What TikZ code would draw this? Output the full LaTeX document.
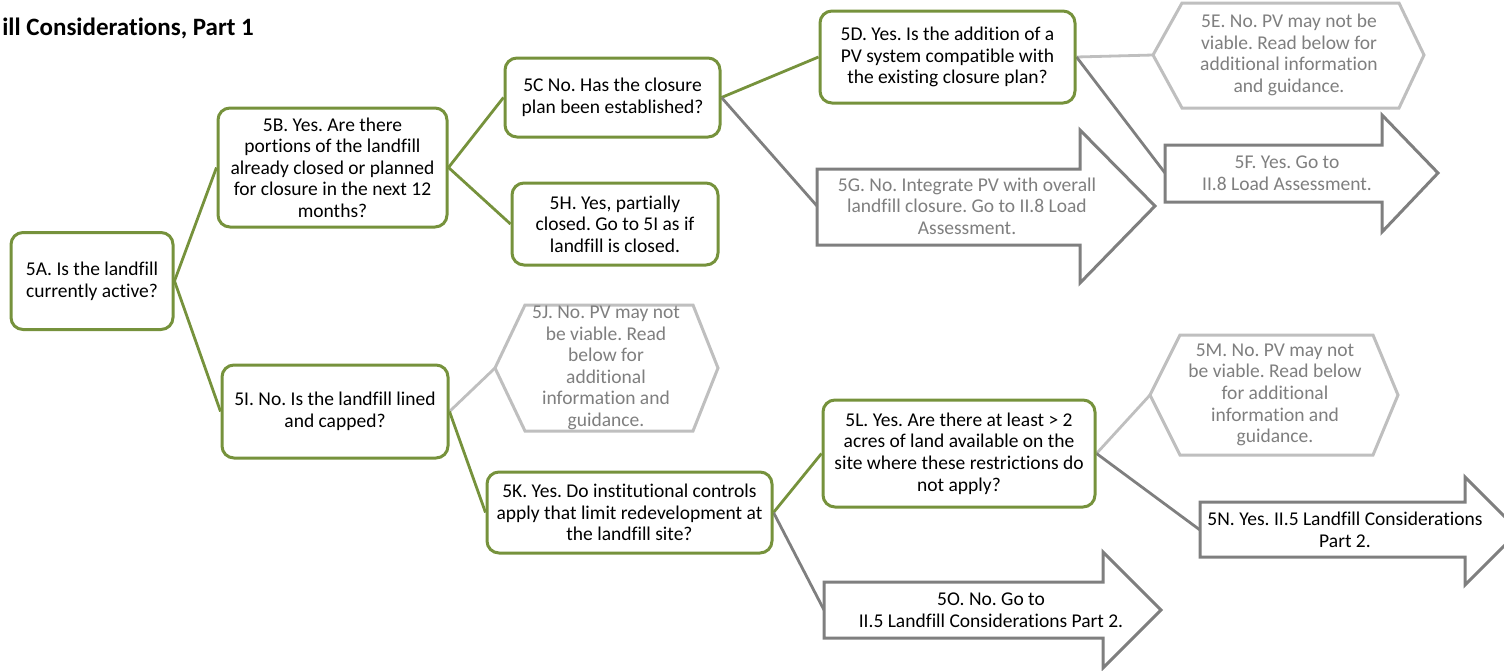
\documentclass[tikz,border=0pt]{standalone}
\usepackage{fontspec}
\setmainfont{Carlito}[Ligatures={NoCommon}]
\frenchspacing
\usetikzlibrary{backgrounds}
\definecolor{leaf}{HTML}{76923C}
\definecolor{slate}{HTML}{7F7F7F}
\definecolor{mist}{HTML}{BFBFBF}

\begin{document}
\begin{tikzpicture}[x=1pt,y=-1pt,
  every node/.style={font=\fontsize{19.5}{21.6}\selectfont, align=center, inner sep=0pt},
  qbox/.style={draw=leaf, line width=3pt, rounded corners=12pt, fill=white},
  hexa/.style={draw=mist, line width=3pt, fill=white},
  goarrow/.style={draw=slate, line width=3pt, fill=white},
  greylabel/.style={text=slate},
  link/.style={draw=leaf, line width=2.8pt},
  darklink/.style={draw=slate, line width=2.8pt},
  lightlink/.style={draw=mist, line width=2.8pt}]

\useasboundingbox (0,0) rectangle (1504,670);

% title
\node[anchor=base east, font=\fontsize{25}{30}\selectfont\bfseries] (title) at (254,35) {ill Considerations, Part 1};

% question boxes
\node[qbox, minimum width=162pt, minimum height=97pt] (A) at (92,281) {5A. Is the landfill\\currently active?};
\node[qbox, minimum width=229pt, minimum height=119pt] (B) at (332.5,167.5) {5B. Yes. Are there\\portions of the landfill\\already closed or planned\\for closure in the next 12\\months?};
\node[qbox, minimum width=215pt, minimum height=79pt] (C) at (612.5,97.5) {5C No. Has the closure\\plan been established?};
\node[qbox, minimum width=206pt, minimum height=82pt] (H) at (615,224) {5H. Yes, partially\\closed. Go to 5I as if\\landfill is closed.};
\node[qbox, minimum width=255pt, minimum height=92pt] (D) at (947.5,57) {5D. Yes. Is the addition of a\\PV system compatible with\\the existing closure plan?};
\node[qbox, minimum width=226pt, minimum height=93pt] (I) at (335,411.5) {5I. No. Is the landfill lined\\and capped?};
\node[qbox, minimum width=285pt, minimum height=81pt] (K) at (629.5,512.5) {5K. Yes. Do institutional controls\\apply that limit redevelopment at\\the landfill site?};
\node[qbox, minimum width=272pt, minimum height=107pt] (L) at (959,453.5) {5L. Yes. Are there at least > 2\\acres of land available on the\\site where these restrictions do\\not apply?};

% "may not be viable" hexagons
\draw[hexa] (1153,55) -- (1182,3) -- (1399,3) -- (1424,55) -- (1399,108) -- (1182,108) -- cycle;
\coordinate (Ein) at (1153,55);
\node[greylabel] (E) at (1289,55) {5E. No. PV may not be\\viable. Read below for\\additional information\\and guidance.};

\draw[hexa] (495,368) -- (525,305) -- (693,305) -- (718,368) -- (693,431) -- (525,431) -- cycle;
\coordinate (Jin) at (495,368);
\node[greylabel] (J) at (606,368) {5J. No. PV may not\\be viable. Read\\below for\\additional\\information and\\guidance.};

\draw[hexa] (1150,395) -- (1180,335) -- (1373,335) -- (1398,395) -- (1373,455) -- (1180,455) -- cycle;
\coordinate (Min) at (1150,395);
\node[greylabel] (M) at (1275,395) {5M. No. PV may not\\be viable. Read below\\for additional\\information and\\guidance.};

% "go to" block arrows
\draw[goarrow] (817,169) -- (1080,169) -- (1080,130) -- (1155,206) -- (1080,283) -- (1080,245) -- (817,245) -- cycle;
\coordinate (Gin) at (817,206);
\node[greylabel] (G) at (967,206) {5G. No. Integrate PV with overall\\landfill closure. Go to II.8 Load\\Assessment.};

\draw[goarrow] (1165,145) -- (1382,145) -- (1382,115) -- (1438,173) -- (1382,232) -- (1382,202) -- (1165,202) -- cycle;
\coordinate (Fin) at (1165,173);
\node[greylabel] (F) at (1287,173) {5F. Yes. Go to\\II.8 Load Assessment.};

\draw[goarrow] (1200,502) -- (1465,502) -- (1465,477) -- (1519,531) -- (1465,585) -- (1465,557) -- (1200,557) -- cycle;
\coordinate (Nin) at (1200,530);
\node (N) at (1345,530) {5N. Yes. II.5 Landfill Considerations\\Part 2.};

\draw[goarrow] (824,582) -- (1103,582) -- (1103,552) -- (1161,610) -- (1103,668) -- (1103,638) -- (824,638) -- cycle;
\coordinate (Oin) at (824,610);
\node (O) at (991,610) {5O. No. Go to\\II.5 Landfill Considerations Part 2.};

% connectors
\begin{scope}[on background layer]
  \draw[link] (A.east) -- (B.west);
  \draw[link] (A.east) -- (I.west);
  \draw[link] (B.east) -- (C.west);
  \draw[link] (B.east) -- (H.west);
  \draw[link] (C.east) -- (D.west);
  \draw[darklink] (C.east) -- (Gin);
  \draw[lightlink] (D.east) -- (Ein);
  \draw[darklink] (D.east) -- (Fin);
  \draw[lightlink] (I.east) -- (Jin);
  \draw[link] (I.east) -- (K.west);
  \draw[link] (K.east) -- (L.west);
  \draw[darklink] (K.east) -- (Oin);
  \draw[lightlink] (L.east) -- (Min);
  \draw[darklink] (L.east) -- (Nin);
\end{scope}
\end{tikzpicture}
\end{document}
